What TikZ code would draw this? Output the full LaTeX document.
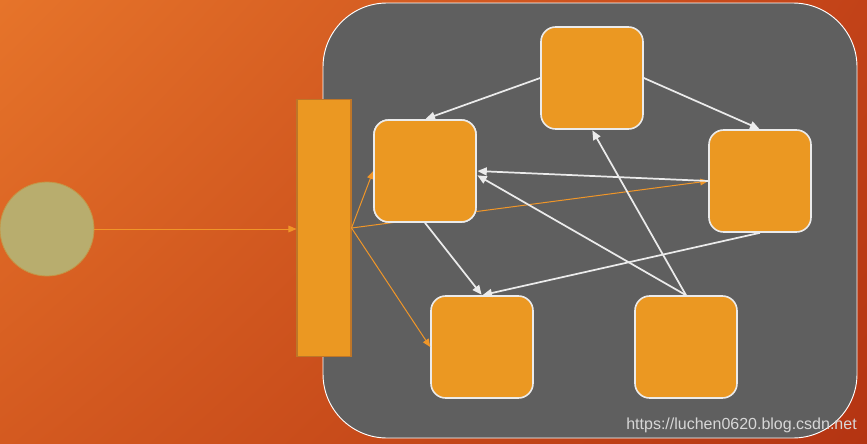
\documentclass[tikz,border=0pt]{standalone}
\usepackage{fontspec}
\setmainfont{Liberation Sans}
\usetikzlibrary{arrows.meta,shadings}
\definecolor{bgA}{RGB}{230,116,42}
\definecolor{bgB}{RGB}{212,90,32}
\definecolor{bgC}{RGB}{194,66,24}
\definecolor{bgD}{RGB}{180,52,18}
\definecolor{panel}{RGB}{95,95,95}
\definecolor{boxfill}{RGB}{235,152,34}
\definecolor{barline}{RGB}{190,118,40}
\definecolor{disc}{RGB}{184,173,110}
\definecolor{discline}{RGB}{196,150,70}
\definecolor{flow}{RGB}{240,150,40}
\definecolor{link}{RGB}{235,235,235}
\definecolor{wmgray}{RGB}{215,215,215}
\tikzset{
  x=0.75pt, y=-0.75pt,
  nodebox/.style={draw=link, line width=1.2pt, fill=boxfill, rounded corners=11pt,
    minimum width=76.5pt, minimum height=76.5pt, inner sep=0pt},
  feedbar/.style={draw=barline, line width=0.8pt, fill=boxfill,
    minimum width=40.5pt, minimum height=192.75pt, inner sep=0pt},
  source/.style={circle, draw=discline, line width=0.6pt, fill=disc,
    minimum size=70.5pt, inner sep=0pt},
  flowarrow/.style={draw=flow, line width=0.75pt, -{Triangle[length=6pt,width=5pt]}},
  linkarrow/.style={draw=link, line width=1.3pt, -{Triangle[length=7pt,width=6pt]}, shorten >=0.5pt}
}
\begin{document}
\begin{tikzpicture}
\useasboundingbox (0,0) rectangle (867,443);
% background
\shade[upper left=bgA, upper right=bgC, lower left=bgB, lower right=bgD] (0,0) rectangle (867,443);
% grey panel
\draw[draw=white, line width=0.7pt, fill=panel, rounded corners=48pt] (323,3) rectangle (857,438);

% nodes
\node[source] (src) at (47,229) {};
\node[feedbar] (bar) at (324,228) {};
\node[nodebox] (top) at (592,78) {};
\node[nodebox] (left) at (425,171) {};
\node[nodebox] (right) at (760,181) {};
\node[nodebox] (bl) at (482,347) {};
\node[nodebox] (br) at (686,347) {};

% orange feed links
\draw[flowarrow] (src.east) -- (bar.west |- src.east);
\draw[flowarrow] (bar.east) -- (left.west);
\draw[flowarrow] (bar.east) -- (bl.west);
\draw[flowarrow] (bar.east) -- (right.west);
% left box drawn again so the long feed link passes behind it
\node[nodebox] (leftcover) at (425,171) {};

% white links between boxes
\draw[linkarrow] (top.west) -- (left.north);
\draw[linkarrow] (top.east) -- (right.north);
\draw[linkarrow] (right.west) -- (left.east);
\draw[linkarrow] (br.north) -- ([yshift=-3pt]left.east);
\draw[linkarrow] (br.north) -- (top.south);
\draw[linkarrow] (left.south) -- (bl.north);
\draw[linkarrow] (right.south) -- (bl.north);

% watermark
\node[anchor=south east, text=wmgray, font=\fontsize{12pt}{14pt}\selectfont, inner sep=0pt] (wm) at (857,433) {https://luchen0620.blog.csdn.net};
\end{tikzpicture}
\end{document}
